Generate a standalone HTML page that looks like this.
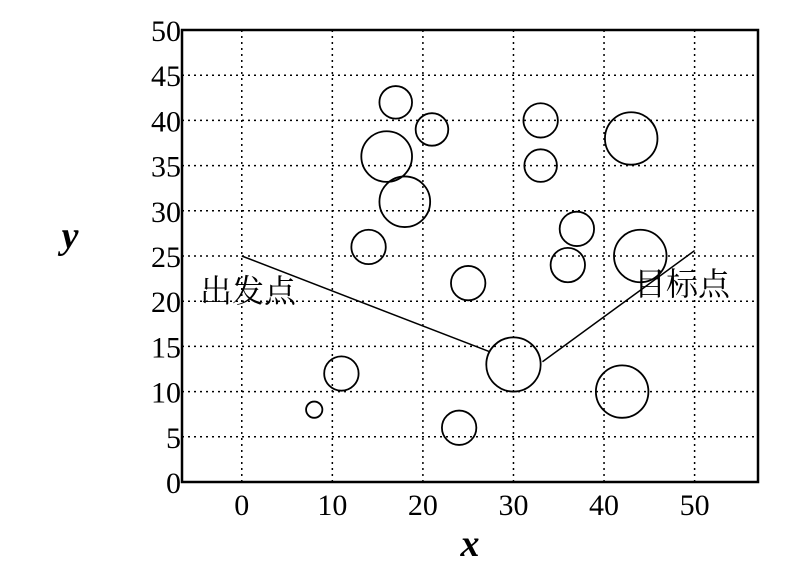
<!DOCTYPE html>
<html><head><meta charset="utf-8"><style>
body{margin:0;background:#fff;width:795px;height:583px;overflow:hidden}
text{font-family:"Liberation Serif","Noto Serif CJK SC",serif}
</style></head><body>
<svg id="c" width="795" height="583"></svg>
<script>
const xTicks=[0,10,20,30,40,50];
const yTicks=[0,5,10,15,20,25,30,35,40,45,50];
const obsX=[17,21,16,18,14,25,11,8,24,30,33,33,43,37,36,44,42];
const obsY=[42,39,36,31,26,22,12,8,6,13,40,35,38,28,24,25,10];
const obsR=[1.8,1.8,2.8,2.8,1.9,1.9,1.9,0.9,1.9,3,1.9,1.8,2.9,1.9,1.9,2.9,2.9];
const pathX1=[0,27.4];const pathY1=[25,14.4];
const pathX2=[33.2,50];const pathY2=[13.3,25.6];
const L=182,R=758,T=30,B=482,xmin=-6.6,xmax=57,ymin=0,ymax=50;
const sx=v=>L+(v-xmin)/(xmax-xmin)*(R-L);
const sy=v=>B-(v-ymin)/(ymax-ymin)*(B-T);
const svg=document.getElementById('c');const NS='http://www.w3.org/2000/svg';
function mk(t,a,p){const e=document.createElementNS(NS,t);for(const k in a)e.setAttribute(k,a[k]);(p||svg).appendChild(e);return e;}
xTicks.forEach(v=>{
 const g=mk('line',{x1:sx(v),x2:sx(v),y1:T,y2:B,stroke:'#000','stroke-width':1.5,'stroke-dasharray':'2,4'});
 
 
 const t=mk('text',{x:sx(v),y:B+33,'text-anchor':'middle','font-size':30});t.textContent=v;
 
 
});
yTicks.forEach(v=>{
 if(v>0&&v<50){const g=mk('line',{x1:L,x2:R,y1:sy(v),y2:sy(v),stroke:'#000','stroke-width':1.5,'stroke-dasharray':'2,4'});
 
 }
 const t=mk('text',{x:L-1,y:sy(v)+11,'text-anchor':'end','font-size':30});t.textContent=v;
 
 
});
const box=mk('rect',{x:L,y:T,width:R-L,height:B-T,fill:'none',stroke:'#000','stroke-width':2.5});


obsX.forEach((x,i)=>{
 const c=mk('ellipse',{cx:sx(x),cy:sy(obsY[i]),rx:obsR[i]*(R-L)/(xmax-xmin),ry:obsR[i]*(B-T)/(ymax-ymin),fill:'none',stroke:'#000','stroke-width':1.8});
 
 
});
[[pathX1,pathY1],[pathX2,pathY2]].forEach(([px,py])=>{
 const p=mk('polyline',{points:px.map((x,i)=>sx(x)+','+sy(py[i])).join(' '),fill:'none',stroke:'#000','stroke-width':1.5});
 
 
});
const s=mk('text',{x:200,y:302,'font-size':32});s.textContent='出发点';


const e=mk('text',{x:634,y:295,'font-size':32});e.textContent='目标点';


const xl=mk('text',{x:470,y:556,'font-size':38,'font-style':'italic','font-weight':'bold','text-anchor':'middle'});xl.textContent='x';


const yl=mk('text',{x:70,y:248,'font-size':38,'font-style':'italic','font-weight':'bold','text-anchor':'middle'});yl.textContent='y';


</script>
</body></html>
